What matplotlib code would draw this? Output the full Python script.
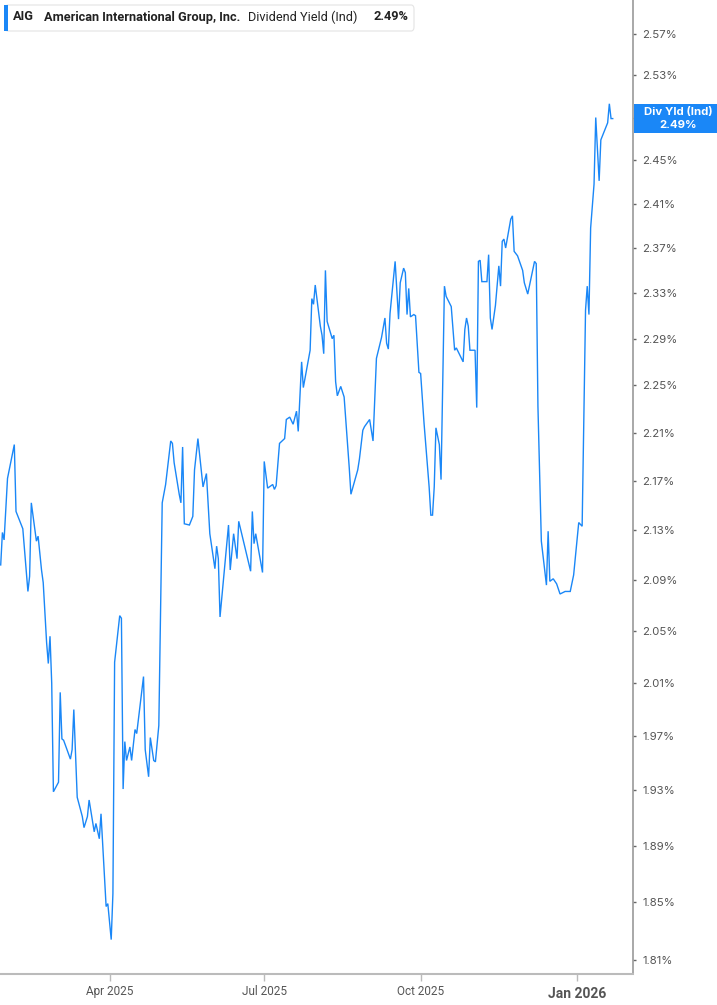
import matplotlib
matplotlib.use("Agg")
import matplotlib.pyplot as plt
from matplotlib.patches import FancyBboxPatch, Rectangle
from matplotlib.ticker import FixedLocator, NullLocator
import pandas as pd

# AIG dividend yield (indicated), %
dates = [
    "2025-01-27", "2025-01-28", "2025-01-29", "2025-01-31", "2025-02-02", "2025-02-04",
    "2025-02-05", "2025-02-09", "2025-02-12", "2025-02-13", "2025-02-14", "2025-02-17",
    "2025-02-18", "2025-02-20", "2025-02-21", "2025-02-23", "2025-02-24", "2025-02-25",
    "2025-02-26", "2025-02-27", "2025-03-02", "2025-03-03", "2025-03-04", "2025-03-05",
    "2025-03-07", "2025-03-09", "2025-03-10", "2025-03-11", "2025-03-13", "2025-03-16",
    "2025-03-17", "2025-03-19", "2025-03-20", "2025-03-23", "2025-03-24", "2025-03-26",
    "2025-03-27", "2025-03-30", "2025-03-31", "2025-04-02", "2025-04-03", "2025-04-04",
    "2025-04-05", "2025-04-07", "2025-04-08", "2025-04-09", "2025-04-10", "2025-04-11",
    "2025-04-13", "2025-04-14", "2025-04-16", "2025-04-17", "2025-04-21", "2025-04-22",
    "2025-04-24", "2025-04-25", "2025-04-27", "2025-04-28", "2025-04-30", "2025-05-02",
    "2025-05-04", "2025-05-07", "2025-05-08", "2025-05-09", "2025-05-12", "2025-05-13",
    "2025-05-14", "2025-05-15", "2025-05-18", "2025-05-20", "2025-05-21", "2025-05-23",
    "2025-05-26", "2025-05-28", "2025-05-30", "2025-06-02", "2025-06-03", "2025-06-04",
    "2025-06-05", "2025-06-10", "2025-06-11", "2025-06-13", "2025-06-15", "2025-06-16",
    "2025-06-20", "2025-06-23", "2025-06-24", "2025-06-25", "2025-06-26", "2025-06-30",
    "2025-07-01", "2025-07-03", "2025-07-06", "2025-07-07", "2025-07-08", "2025-07-10",
    "2025-07-13", "2025-07-14", "2025-07-16", "2025-07-18", "2025-07-20", "2025-07-21",
    "2025-07-23", "2025-07-24", "2025-07-28", "2025-07-29", "2025-07-30", "2025-07-31",
    "2025-08-03", "2025-08-04", "2025-08-05", "2025-08-06", "2025-08-07", "2025-08-10",
    "2025-08-11", "2025-08-12", "2025-08-13", "2025-08-15", "2025-08-17", "2025-08-20",
    "2025-08-21", "2025-08-25", "2025-08-26", "2025-08-28", "2025-08-29", "2025-09-01",
    "2025-09-03", "2025-09-05", "2025-09-07", "2025-09-08", "2025-09-10", "2025-09-11",
    "2025-09-12", "2025-09-13", "2025-09-16", "2025-09-18", "2025-09-19", "2025-09-21",
    "2025-09-22", "2025-09-23", "2025-09-24", "2025-09-25", "2025-09-27", "2025-09-28",
    "2025-09-29", "2025-09-30", "2025-10-01", "2025-10-03", "2025-10-06", "2025-10-07",
    "2025-10-08", "2025-10-09", "2025-10-10", "2025-10-12", "2025-10-13", "2025-10-15",
    "2025-10-16", "2025-10-19", "2025-10-21", "2025-10-22", "2025-10-26", "2025-10-27",
    "2025-10-28", "2025-10-29", "2025-10-30", "2025-11-02", "2025-11-03", "2025-11-04",
    "2025-11-05", "2025-11-06", "2025-11-09", "2025-11-10", "2025-11-11", "2025-11-12",
    "2025-11-14", "2025-11-15", "2025-11-16", "2025-11-17", "2025-11-18", "2025-11-19",
    "2025-11-20", "2025-11-23", "2025-11-24", "2025-11-25", "2025-11-27", "2025-11-30",
    "2025-12-01", "2025-12-03", "2025-12-07", "2025-12-08", "2025-12-09", "2025-12-11",
    "2025-12-14", "2025-12-15", "2025-12-16", "2025-12-17", "2025-12-18", "2025-12-20",
    "2025-12-22", "2025-12-25", "2025-12-28", "2025-12-30", "2026-01-02", "2026-01-04",
    "2026-01-06", "2026-01-07", "2026-01-08", "2026-01-09", "2026-01-11", "2026-01-12",
    "2026-01-14", "2026-01-15", "2026-01-19", "2026-01-20", "2026-01-21", "2026-01-22",
]
div_yield = [
    2.102, 2.128, 2.122, 2.172, 2.186, 2.200,
    2.145, 2.131, 2.081, 2.093, 2.152, 2.121,
    2.125, 2.098, 2.088, 2.041, 2.025, 2.046,
    2.010, 1.929, 1.936, 2.003, 1.968, 1.967,
    1.960, 1.953, 1.960, 1.990, 1.925, 1.911,
    1.903, 1.911, 1.923, 1.900, 1.906, 1.895,
    1.913, 1.847, 1.849, 1.824, 1.856, 2.026,
    2.038, 2.062, 2.060, 1.931, 1.966, 1.952,
    1.962, 1.952, 1.975, 1.972, 2.015, 1.960,
    1.940, 1.969, 1.952, 1.951, 1.978, 2.152,
    2.167, 2.203, 2.201, 2.185, 2.159, 2.152,
    2.198, 2.135, 2.134, 2.141, 2.179, 2.205,
    2.165, 2.176, 2.127, 2.099, 2.117, 2.107,
    2.061, 2.134, 2.098, 2.127, 2.107, 2.137,
    2.114, 2.097, 2.145, 2.119, 2.127, 2.096,
    2.186, 2.164, 2.167, 2.163, 2.166, 2.201,
    2.205, 2.221, 2.223, 2.217, 2.228, 2.211,
    2.270, 2.248, 2.280, 2.325, 2.320, 2.337,
    2.301, 2.293, 2.277, 2.350, 2.305, 2.290,
    2.293, 2.253, 2.241, 2.249, 2.240, 2.181,
    2.159, 2.179, 2.188, 2.212, 2.215, 2.221,
    2.203, 2.273, 2.285, 2.291, 2.308, 2.286,
    2.281, 2.312, 2.358, 2.307, 2.339, 2.352,
    2.348, 2.311, 2.334, 2.309, 2.311, 2.310,
    2.286, 2.261, 2.260, 2.218, 2.165, 2.142,
    2.142, 2.165, 2.214, 2.200, 2.171, 2.336,
    2.327, 2.318, 2.280, 2.282, 2.270, 2.298,
    2.308, 2.301, 2.280, 2.280, 2.231, 2.358,
    2.359, 2.340, 2.340, 2.364, 2.308, 2.298,
    2.319, 2.336, 2.354, 2.336, 2.376, 2.378,
    2.370, 2.396, 2.399, 2.367, 2.363, 2.350,
    2.339, 2.329, 2.358, 2.356, 2.232, 2.121,
    2.086, 2.129, 2.089, 2.090, 2.091, 2.087,
    2.079, 2.081, 2.081, 2.094, 2.136, 2.133,
    2.315, 2.336, 2.311, 2.388, 2.428, 2.490,
    2.431, 2.469, 2.485, 2.503, 2.489, 2.489,
]

y_ticks = [1.81, 1.85, 1.89, 1.93, 1.97, 2.01, 2.05, 2.09, 2.13, 2.17, 2.21,
           2.25, 2.29, 2.33, 2.37, 2.41, 2.45, 2.49, 2.53, 2.57]
x_ticks = ["2025-04-01", "2025-07-01", "2025-10-01", "2026-01-01"]
x_labels = ["Apr 2025", "Jul 2025", "Oct 2025", "Jan 2026"]

ticker = "AIG"
company = "American International Group, Inc."
metric = "Dividend Yield (Ind)"
last_value = 2.49
last_label = "2.49%"

BLUE = "#1a87f7"
W, H = 717, 1005

plt.rcParams['font.family'] = ['Inter', 'DejaVu Sans']

fig = plt.figure(figsize=(W / 100, H / 100), dpi=100)
ax = fig.add_axes([0, 31 / H, 633 / W, 1 - 31 / H])

x = pd.to_datetime(dates)
ax.plot(x, div_yield, color=BLUE, lw=1.0, solid_joinstyle='miter')

ax.set_yscale('log')
ax.set_ylim(1.8004, 2.6033)
ax.set_xlim(pd.Timestamp("2025-01-26 14:00"), pd.Timestamp("2026-02-02 22:00"))

# the last-value tag covers its own tick label, so that one is left blank
ax.yaxis.tick_right()
ax.yaxis.set_major_locator(FixedLocator(y_ticks))
ax.yaxis.set_minor_locator(NullLocator())
ax.set_yticklabels(["" if abs(t - last_value) < 1e-9 else f"{t:.2f}%" for t in y_ticks])
ax.tick_params(axis='y', which='major', direction='out', length=2.5, width=1,
               color='#666666', labelsize=8.2, labelcolor='#555555', pad=4)

xt = pd.to_datetime(x_ticks)
ax.set_xticks(xt)
ax.set_xticklabels(x_labels, family=['Roboto', 'DejaVu Sans'])
ax.tick_params(axis='x', direction='out', length=5, width=1, color='#bbbbbb',
               labelsize=8.5, labelcolor='#555555', pad=3)
lbls = ax.get_xticklabels()
lbls[-1].set_fontweight('bold')
lbls[-1].set_fontsize(10)
lbls[-1].set_y(-0.002)

for s in ['top', 'left']:
    ax.spines[s].set_visible(False)
ax.spines['right'].set_color('#999999')
ax.spines['right'].set_linewidth(1.2)
ax.spines['bottom'].set_color('#bbbbbb')
ax.spines['bottom'].set_linewidth(1.5)


def fx(px):
    return px / W


def fy(py):
    return 1 - py / H


hfont = ['Roboto', 'DejaVu Sans']

# header box
hdr = FancyBboxPatch((fx(5), fy(31)), fx(409), 26 / H, boxstyle="round,pad=0,rounding_size=0.004",
                     transform=fig.transFigure, facecolor='white', edgecolor='#e4e4e4', lw=0.8)
fig.patches.append(hdr)
fig.patches.append(Rectangle((fx(4), fy(31)), fx(3.5), 26 / H, transform=fig.transFigure,
                             facecolor=BLUE, edgecolor='none'))
fig.text(fx(13), fy(17), ticker, fontsize=9.2, fontweight='bold', va='center',
         color='#222222', family=hfont)
fig.text(fx(44), fy(17), company, fontsize=9.2, fontweight='bold', va='center',
         color='#222222', family=hfont)
fig.text(fx(248), fy(17), metric, fontsize=9.2, va='center', color='#222222', family=hfont)
fig.text(fx(373), fy(17), last_label, fontsize=9.2, fontweight='bold', va='center',
         color='#222222', family=hfont)

# last value tag on the right axis
fig.patches.append(Rectangle((fx(634), fy(133)), fx(83), 29 / H, transform=fig.transFigure,
                             facecolor=BLUE, edgecolor='none'))
fig.text(fx(678), fy(112), "Div Yld (Ind)", fontsize=8.2, fontweight='bold', color='white',
         ha='center', va='center')
fig.text(fx(678), fy(125), last_label, fontsize=8.2, fontweight='bold', color='white',
         ha='center', va='center')

fig.savefig("out.png", dpi=100)
